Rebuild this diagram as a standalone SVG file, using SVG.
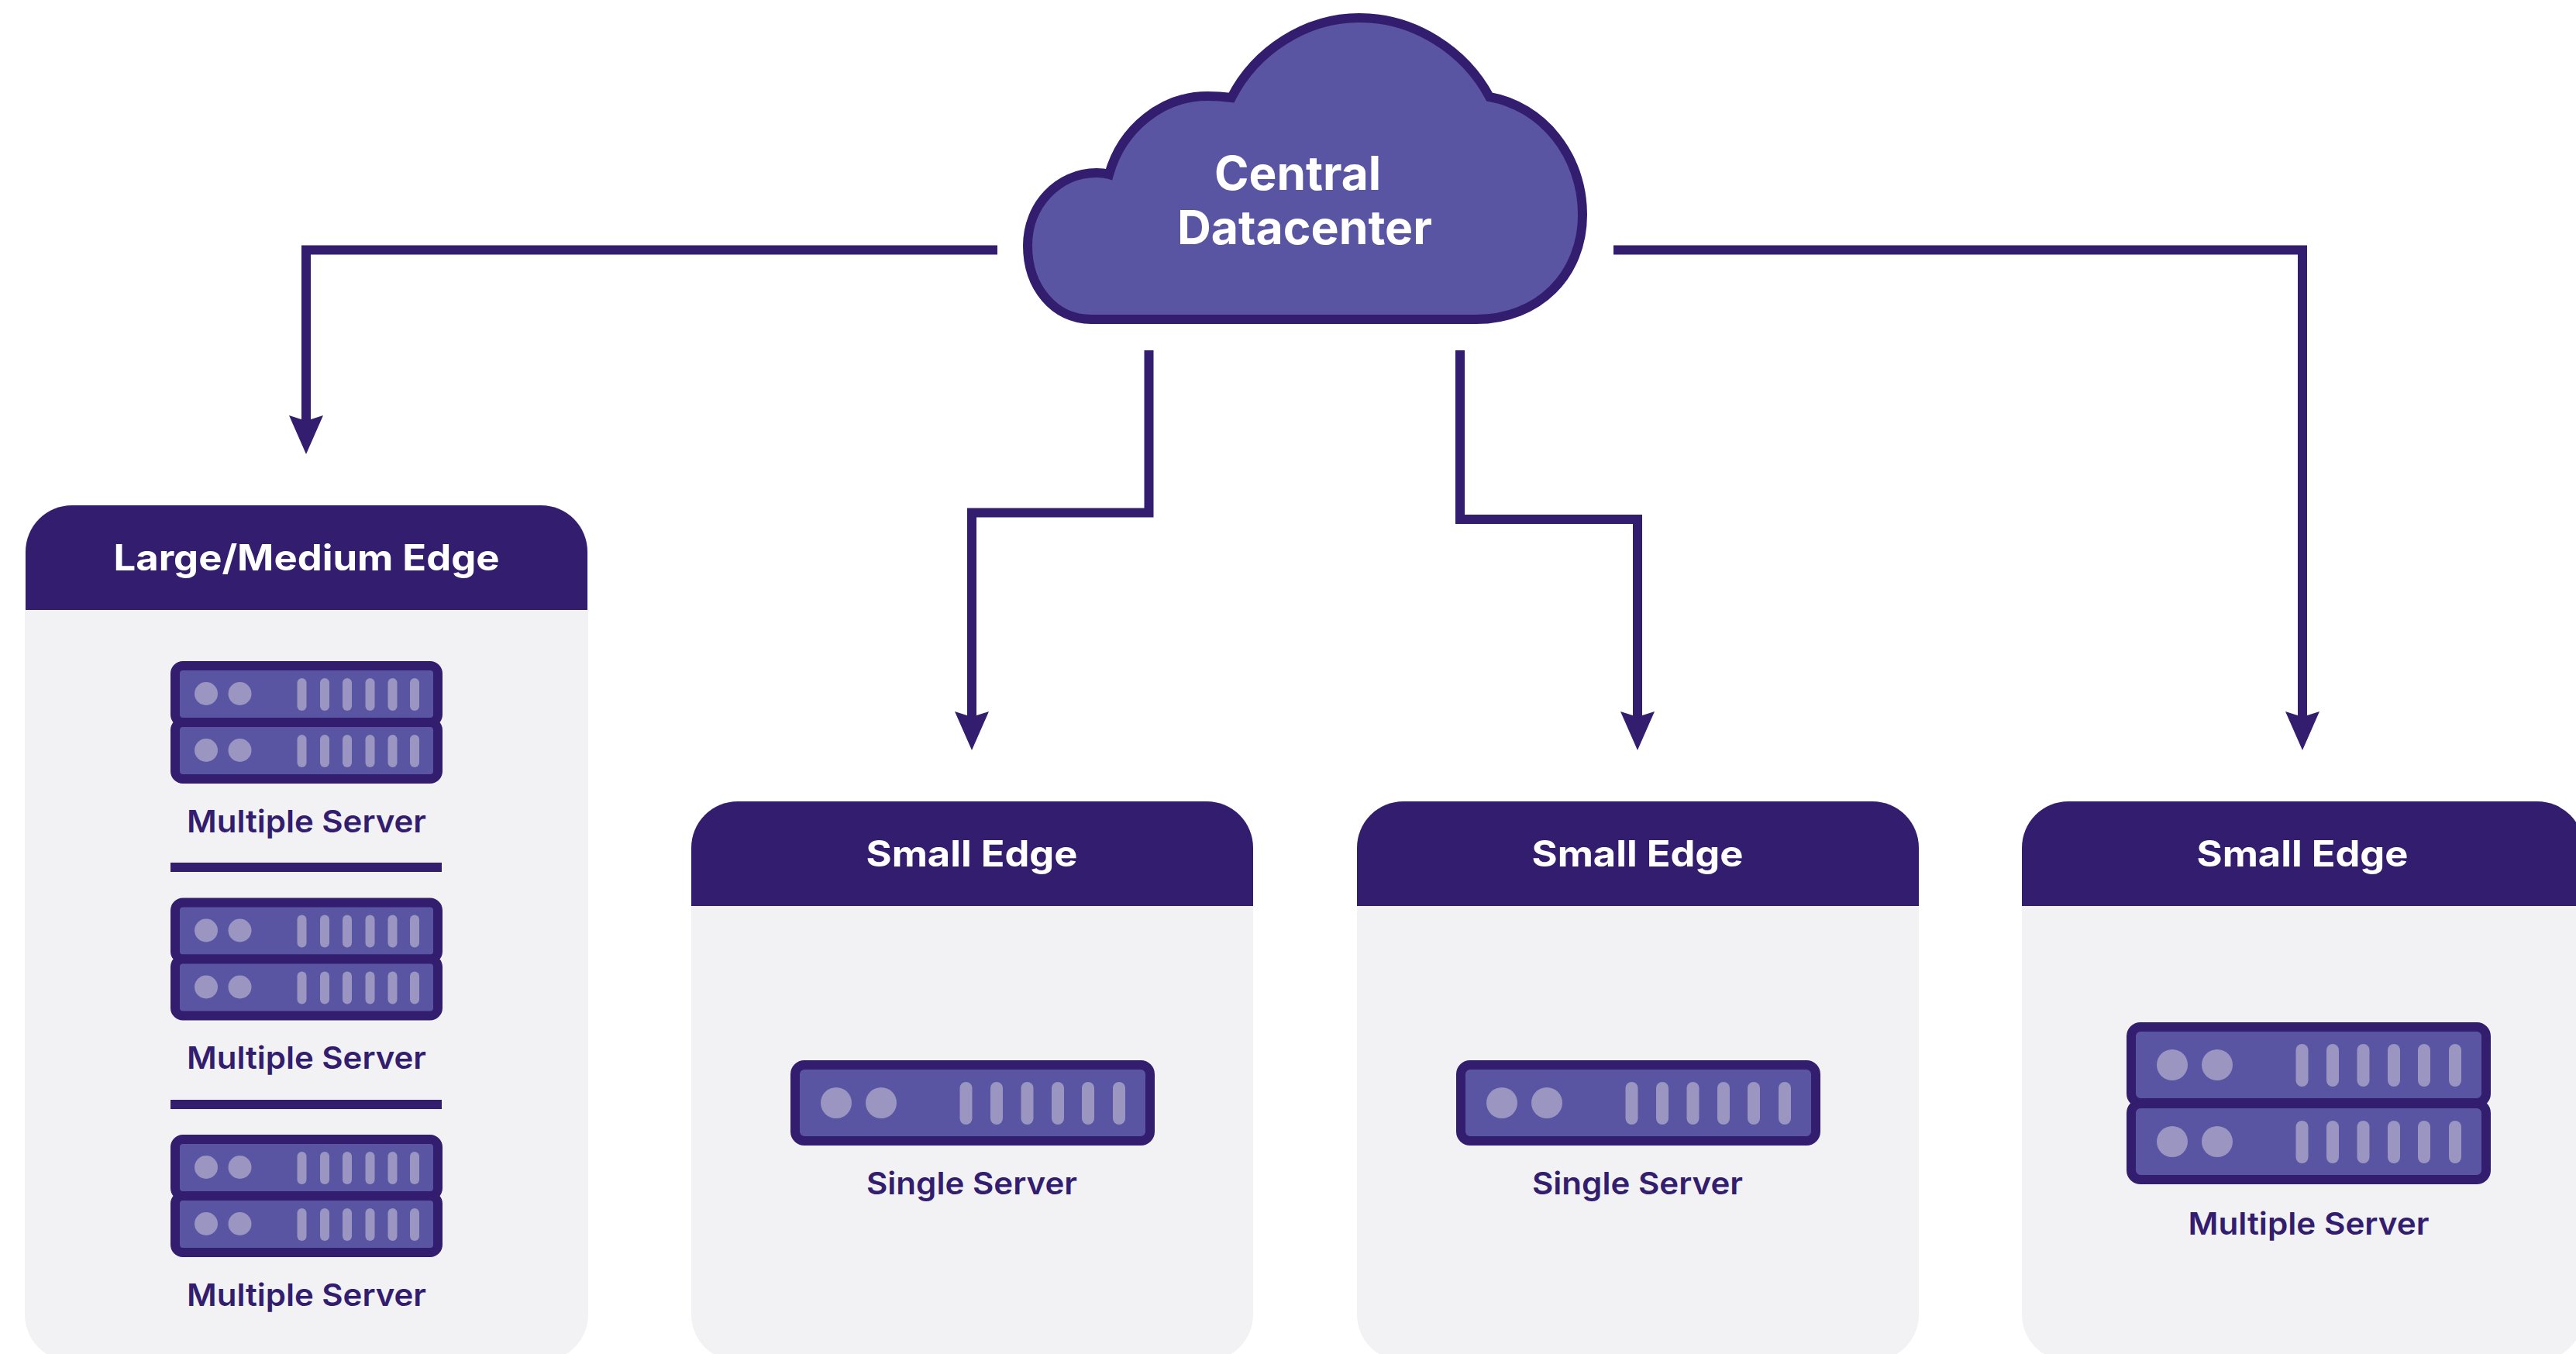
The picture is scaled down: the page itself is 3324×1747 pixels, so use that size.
<svg xmlns="http://www.w3.org/2000/svg" xmlns:xlink="http://www.w3.org/1999/xlink" width="3324" height="1747" viewBox="0 0 3324 1747">
<style>
.bg{fill:#fff}
.panel{fill:#f2f2f4}
.head{fill:#331d6e}
.unit{fill:#5a55a3;stroke:#331d6e;stroke-width:12}
.lamp{fill:#9a95c1}
.link{fill:none;stroke:#331d6e;stroke-width:12;stroke-linejoin:miter;marker-end:url(#arrow)}
.rule{fill:#331d6e}
text{font-family:Inter,"Liberation Sans",sans-serif;font-weight:700}
.title{fill:#fff;font-size:46px;text-anchor:middle}
.cloudtxt{fill:#fff;font-size:60px}
.cap{fill:#331d6e;font-size:40px;text-anchor:middle;font-weight:600}
</style>
<defs>
<marker id="arrow" markerUnits="userSpaceOnUse" markerWidth="50" markerHeight="44" viewBox="0 0 50 44" refX="10" refY="22" orient="auto"><polygon points="0,0 50,22 0,44 7,22" fill="#331d6e"/></marker>
<path id="panelHead" class="head" d="M0 135V60A60 60 0 0 1 60 0H665A60 60 0 0 1 725 60V135Z"/>
<g id="smallUnit">
<rect class="unit" x="6" y="6" width="339" height="73" rx="10"/>
<circle class="lamp" cx="46" cy="42" r="15"/><circle class="lamp" cx="89.500" cy="42" r="15"/>
<rect class="lamp" x="163.500" y="22" width="12" height="42" rx="6"/><rect class="lamp" x="193" y="22" width="12" height="42" rx="6"/><rect class="lamp" x="222" y="22" width="12" height="42" rx="6"/><rect class="lamp" x="251.500" y="22" width="12" height="42" rx="6"/><rect class="lamp" x="280.500" y="22" width="12" height="42" rx="6"/><rect class="lamp" x="309" y="22" width="12" height="42" rx="6"/>
</g>
<g id="bigUnit">
<rect class="unit" x="6" y="6" width="458" height="98" rx="12"/>
<circle class="lamp" cx="59" cy="55" r="20"/><circle class="lamp" cx="117" cy="55" r="20"/>
<rect class="lamp" x="218.500" y="28" width="16" height="55" rx="8"/><rect class="lamp" x="258" y="28" width="16" height="55" rx="8"/><rect class="lamp" x="297.500" y="28" width="16" height="55" rx="8"/><rect class="lamp" x="337" y="28" width="16" height="55" rx="8"/><rect class="lamp" x="376" y="28" width="16" height="55" rx="8"/><rect class="lamp" x="416" y="28" width="16" height="55" rx="8"/>
</g>
</defs>
<rect class="bg" width="3324" height="1747"/>
<g id="connectors">
<path class="link" d="M1287 322.500H395V546"/>
<path class="link" d="M1482.500 452V661.500H1254V928"/>
<path class="link" d="M1884 452V670H2113V928"/>
<path class="link" d="M2082 322.500H2971V928"/>
</g>
<g id="central-datacenter">
<path d="M1408 412C1360 412 1326 370 1326 317C1326 265 1365 223 1415 223Q1424 223 1431 225C1448 165 1500 124 1558 124Q1574 124 1589 126C1620 65 1685 23 1754 23C1825 23 1890 65 1922 125C1990 137 2042 200 2042 277C2042 355 1985 412 1905 412Z" fill="#5a55a3" stroke="#331d6e" stroke-width="12" stroke-linejoin="miter"/>
<text class="cloudtxt" x="1567" y="245" textLength="215" lengthAdjust="spacingAndGlyphs">Central</text>
<text class="cloudtxt" x="1519" y="315" textLength="329" lengthAdjust="spacingAndGlyphs">Datacenter</text>
</g>
<g id="large-medium-edge">
<rect class="panel" x="32" y="652" width="727" height="1104" rx="60"/>
<use href="#panelHead" x="33" y="652"/>
<text class="title" x="395.500" y="735.500" textLength="498" lengthAdjust="spacingAndGlyphs">Large/Medium Edge</text>
<g id="lm-server-1"><use href="#smallUnit" x="220" y="853"/><use href="#smallUnit" x="220" y="926"/><text class="cap" x="395.500" y="1074" textLength="309" lengthAdjust="spacingAndGlyphs">Multiple Server</text></g>
<rect class="rule" x="220" y="1113" width="350" height="12"/>
<g id="lm-server-2"><use href="#smallUnit" x="220" y="1158.500"/><use href="#smallUnit" x="220" y="1231.500"/><text class="cap" x="395.500" y="1379" textLength="309" lengthAdjust="spacingAndGlyphs">Multiple Server</text></g>
<rect class="rule" x="220" y="1419" width="350" height="12"/>
<g id="lm-server-3"><use href="#smallUnit" x="220" y="1464"/><use href="#smallUnit" x="220" y="1537"/><text class="cap" x="395.500" y="1684.500" textLength="309" lengthAdjust="spacingAndGlyphs">Multiple Server</text></g>
</g>
<g id="small-edge-1">
<rect class="panel" x="892" y="1034" width="725" height="722" rx="60"/>
<use href="#panelHead" x="892" y="1034"/>
<text class="title" x="1254" y="1118" textLength="273" lengthAdjust="spacingAndGlyphs">Small Edge</text>
<use href="#bigUnit" x="1020" y="1368"/>
<text class="cap" x="1254" y="1541" textLength="272" lengthAdjust="spacingAndGlyphs">Single Server</text>
</g>
<g id="small-edge-2">
<rect class="panel" x="1751" y="1034" width="725" height="722" rx="60"/>
<use href="#panelHead" x="1751" y="1034"/>
<text class="title" x="2113" y="1118" textLength="273" lengthAdjust="spacingAndGlyphs">Small Edge</text>
<use href="#bigUnit" x="1879" y="1368"/>
<text class="cap" x="2113" y="1541" textLength="272" lengthAdjust="spacingAndGlyphs">Single Server</text>
</g>
<g id="small-edge-3">
<rect class="panel" x="2609" y="1034" width="725" height="722" rx="60"/>
<use href="#panelHead" x="2609" y="1034"/>
<text class="title" x="2971" y="1118" textLength="273" lengthAdjust="spacingAndGlyphs">Small Edge</text>
<use href="#bigUnit" x="2744" y="1319"/>
<use href="#bigUnit" x="2744" y="1418"/>
<text class="cap" x="2979" y="1592.500" textLength="311" lengthAdjust="spacingAndGlyphs">Multiple Server</text>
</g>
</svg>
